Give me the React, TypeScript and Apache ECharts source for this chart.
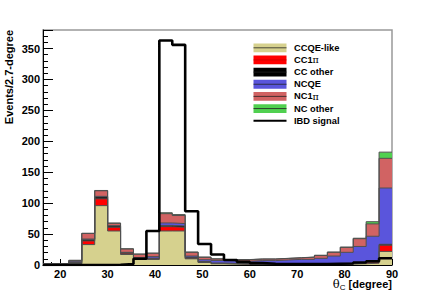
import React, { useEffect, useRef } from "react";
import * as echarts from "echarts";

// Histogram binning: 33 bins over 0-90 deg, shown from bin 6 on
const BIN_COUNT_FULL = 33;
const FIRST_BIN = 6;
const X_MAX = 90;
const Y_MAX = 380;

// Stacked background components (events per bin, 27 bins)
const ccqeLike = [0.3, 0.5, 2, 33, 96, 55, 17, 9, 9, 55, 55, 10, 4, 2, 1.5, 1, 1, 1, 1, 1, 1, 1, 1, 1.5, 2, 3, 22];
const cc1pi = [0, 0, 0.5, 6, 11, 6, 2, 1, 1, 7, 6, 1, 0.5, 0.3, 0.3, 0.3, 0.3, 0.3, 0.3, 0.3, 0.3, 0.3, 0.5, 0.5, 0.8, 1.5, 10];
const ccOther = [0.2, 0.2, 1.5, 2, 3, 2, 1, 1, 1, 2, 2, 1.5, 1, 1, 0.8, 0.8, 0.8, 0.8, 0.8, 0.8, 0.8, 1, 1, 1, 1.2, 2, 1.5];
const ncqe = [1.5, 1.5, 2, 1, 1, 0.5, 0.5, 1, 2.5, 4, 4, 2, 3, 4, 4, 4, 5, 5, 6, 7, 7, 8.5, 12, 17.5, 26, 40, 91];
const nc1pi = [0, 0, 1.5, 9, 9, 4, 5.5, 5.5, 5.5, 15, 13, 6, 4, 2.5, 2, 2.5, 2.5, 2.5, 2.5, 2.5, 3.5, 4.5, 6, 8, 12.5, 20, 48];
const ncOther = [0, 0, 0, 0.3, 0.5, 0.3, 0.2, 0.2, 0.2, 1.5, 1.5, 0.5, 0.3, 0.2, 0.2, 0.2, 0.2, 0.2, 0.2, 0.2, 0.3, 0.5, 0.5, 0.5, 0.8, 3.5, 10];

// IBD signal (outline histogram)
const ibdSignal = [0, 0, 0, 0, 0, 0.5, 1.5, 10, 55, 363, 356, 87, 34, 17, 8, 5, 3, 2, 1.5, 1.5, 1.5, 1.5, 2, 2.5, 4, 6, 11];

const layerNames = ["CCQE-like", "CC1π", "CC other", "NCQE", "NC1π", "NC other"];
const layerValues = [ccqeLike, cc1pi, ccOther, ncqe, nc1pi, ncOther];
const layerColors = ["#d6d18e", "#ff0000", "#000000", "#5a55dc", "#d16363", "#50d050"];
const legendLabels = ["CCQE-like", "CC1{p|π}", "CC other", "NCQE", "NC1{p|π}", "NC other", "IBD signal"];

const binWidth = X_MAX / BIN_COUNT_FULL;
const nBins = BIN_COUNT_FULL - FIRST_BIN;
const edges = Array.from({ length: nBins + 1 }, (_, k) => (FIRST_BIN + k) * binWidth);
const X_MIN = edges[0];

function toStep(vals: number[]): number[][] {
  const pts = vals.map((v, i) => [edges[i], v]);
  pts.push([edges[nBins], vals[nBins - 1]]);
  return pts;
}

// cumulative sums (ROOT THStack style)
const cumulative: number[][] = [];
layerValues.forEach((vals, j) => {
  cumulative.push(vals.map((v, i) => v + (j > 0 ? cumulative[j - 1][i] : 0)));
});

const FONT = "'Liberation Sans', Arial, Helvetica, sans-serif";

export default function App() {
  const ref = useRef<HTMLDivElement>(null);
  useEffect(() => {
    if (!ref.current) return;
    const chart = echarts.init(ref.current, null, { renderer: "svg" });

    const series: any[] = [];
    for (let j = layerValues.length - 1; j >= 0; j--) {
      series.push({
        name: layerNames[j],
        type: "line",
        step: "end",
        data: toStep(cumulative[j]),
        symbol: "none",
        silent: true,
        lineStyle: { color: "#505050", width: 1 },
        areaStyle: { color: layerColors[j], opacity: 1, origin: "start" },
        z: 2,
      });
    }
    series.push({
      name: "IBD signal",
      type: "line",
      step: "end",
      data: toStep(ibdSignal),
      symbol: "none",
      silent: true,
      lineStyle: { color: "#000", width: 2.6 },
      z: 3,
    });

    const legendX = 253.5;
    const legendY0 = 47.8;
    const legendDy = 12.15;
    const graphic: any[] = [];
    legendLabels.forEach((lab, i) => {
      const cy = legendY0 + i * legendDy;
      if (i < layerColors.length) {
        graphic.push({
          type: "rect",
          shape: { x: legendX, y: cy - 4.4, width: 33, height: 8.8 },
          style: { fill: layerColors[i], stroke: null },
          silent: true,
        });
        graphic.push({
          type: "line",
          shape: { x1: legendX, y1: cy, x2: legendX + 33, y2: cy },
          style: { stroke: i === 1 ? "#cc0000" : "#222", lineWidth: 0.8 },
          silent: true,
        });
      } else {
        graphic.push({
          type: "line",
          shape: { x1: legendX, y1: cy, x2: legendX + 33, y2: cy },
          style: { stroke: "#000", lineWidth: 2 },
          silent: true,
        });
      }
      graphic.push({
        type: "text",
        x: 294,
        y: cy,
        silent: true,
        style: {
          text: lab,
          fill: "#000",
          fontFamily: FONT,
          fontWeight: "bold",
          fontSize: 9.3,
          align: "left",
          verticalAlign: "middle",
          rich: {
            p: { fontFamily: "'DejaVu Serif', 'Liberation Serif', serif", fontSize: 9.5, fontWeight: "normal", fill: "#000" },
          },
        },
      });
    });
    // y axis title
    graphic.push({
      type: "text",
      x: 9,
      y: 30,
      rotation: Math.PI / 2,
      silent: true,
      style: {
        text: "Events/2.7-degree",
        fill: "#000",
        fontFamily: FONT,
        fontWeight: "bold",
        fontSize: 11,
        align: "right",
        verticalAlign: "middle",
      },
    });
    // x axis title
    graphic.push({
      type: "text",
      x: 392,
      y: 284,
      silent: true,
      style: {
        text: "{t|θ}{s|C}{n| [degree]}",
        align: "right",
        verticalAlign: "middle",
        rich: {
          t: { fontFamily: "'DejaVu Serif', 'Liberation Serif', serif", fontSize: 11.5, fill: "#000" },
          s: { fontFamily: FONT, fontSize: 8, fill: "#000", padding: [6, 0, 0, 0] },
          n: { fontFamily: FONT, fontSize: 11, fontWeight: "bold", fill: "#000" },
        },
      },
    });

    const option: any = {
      animation: false,
      backgroundColor: "#ffffff",
      grid: {
        left: 43,
        right: 44,
        top: 30,
        bottom: 30,
        show: true,
        borderColor: "#999",
        borderWidth: 1.5,
        backgroundColor: "transparent",
      },
      xAxis: {
        type: "value",
        min: X_MIN,
        max: X_MAX,
        splitNumber: 7,
        axisLine: { show: true, onZero: false, lineStyle: { color: "#000", width: 1 } },
        axisTick: { show: true, inside: true, length: 6, lineStyle: { color: "#000" } },
        minorTick: { show: true, splitNumber: 5, length: 3, lineStyle: { color: "#000" } },
        splitLine: { show: false },
        axisLabel: {
          color: "#000",
          fontFamily: FONT,
          fontWeight: "bold",
          fontSize: 11,
          margin: 3,
          showMinLabel: false,
          showMaxLabel: true,
        },
      },
      yAxis: {
        type: "value",
        min: 0,
        max: Y_MAX,
        interval: 50,
        axisLine: { show: true, lineStyle: { color: "#000", width: 1 } },
        axisTick: { show: true, inside: true, length: 10, lineStyle: { color: "#000" } },
        minorTick: { show: true, splitNumber: 5, length: 5, lineStyle: { color: "#000" } },
        splitLine: { show: false },
        axisLabel: {
          color: "#000",
          fontFamily: FONT,
          fontWeight: "bold",
          fontSize: 11,
          margin: 3,
          showMaxLabel: false,
        },
      },
      series,
      graphic,
    };
    chart.setOption(option);
    return () => chart.dispose();
  }, []);

  return (
    <div
      ref={ref}
      style={{ position: "fixed", left: 0, top: 0, width: 436, height: 295, background: "#fff" }}
    />
  );
}
